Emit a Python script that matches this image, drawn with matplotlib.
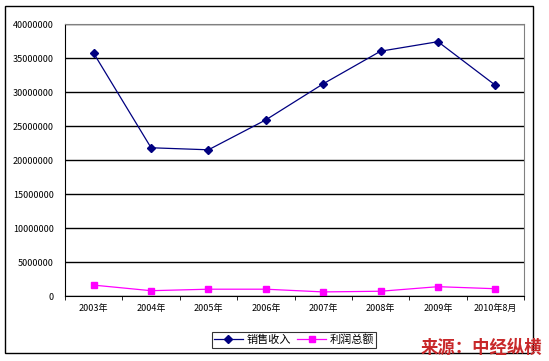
import numpy as np
import matplotlib
matplotlib.use('Agg')
import matplotlib.pyplot as plt
from matplotlib.patches import Rectangle

plt.rcParams['font.family'] = ['Noto Sans CJK SC', 'DejaVu Sans']

years = ['2003年', '2004年', '2005年', '2006年', '2007年', '2008年', '2009年', '2010年8月']
sales = [35700000, 21800000, 21500000, 25900000, 31200000, 36000000, 37400000, 31000000]
profit = [1600000, 780000, 1000000, 1000000, 600000, 700000, 1370000, 1070000]

fig = plt.figure(figsize=(5.49, 3.61), dpi=100)
W, H = 549, 361
ax = fig.add_axes([65 / W, 1 - 296 / H, (524 - 65) / W, (296 - 24) / H])

x = np.arange(len(years))
ax.plot(x, sales, color='#000080', lw=0.9, marker='D', ms=4, label='销售收入')
ax.plot(x, profit, color='#ff00ff', lw=0.9, marker='s', ms=5, label='利润总额')

ax.set_xlim(-0.5, len(years) - 0.5)
ax.set_ylim(0, 40000000)
ax.set_yticks(np.arange(0, 40000001, 5000000))
ax.set_yticklabels([str(v) for v in range(0, 40000001, 5000000)], fontsize=6.5)
ax.yaxis.grid(True, color='black', lw=1)
ax.set_axisbelow(True)
ax.set_xticks(x)
ax.set_xticklabels(years, fontsize=6.5)
ax.set_xticks(np.arange(-0.5, len(years), 1), minor=True)
ax.tick_params(axis='x', which='major', length=0, pad=6)
ax.tick_params(axis='x', which='minor', length=3, direction='out', color='black')
ax.tick_params(axis='y', length=0, pad=8)
for s in ['top', 'right']:
    ax.spines[s].set_color('#808080')
for s in ['left', 'bottom']:
    ax.spines[s].set_color('black')

# outer chart frame
fig.patches.append(Rectangle((5 / W, 1 - 353 / H), (533 - 5) / W, (353 - 6) / H,
                             transform=fig.transFigure, fill=False, ec='black', lw=1))

leg = fig.legend(loc='center', bbox_to_anchor=(294 / W, 1 - 340 / H), ncol=2,
                 fontsize=8, frameon=True, fancybox=False, edgecolor='black',
                 handlelength=2.6, columnspacing=0.6, handletextpad=0.3,
                 borderpad=0.2)
leg.get_frame().set_linewidth(0.8)

fig.text(542 / W, 1 - 348 / H, '来源：中经纵横', ha='right', va='center',
         fontsize=12.5, color='#c8282a', fontweight='bold', style='italic')

fig.savefig('out.png', dpi=100)
